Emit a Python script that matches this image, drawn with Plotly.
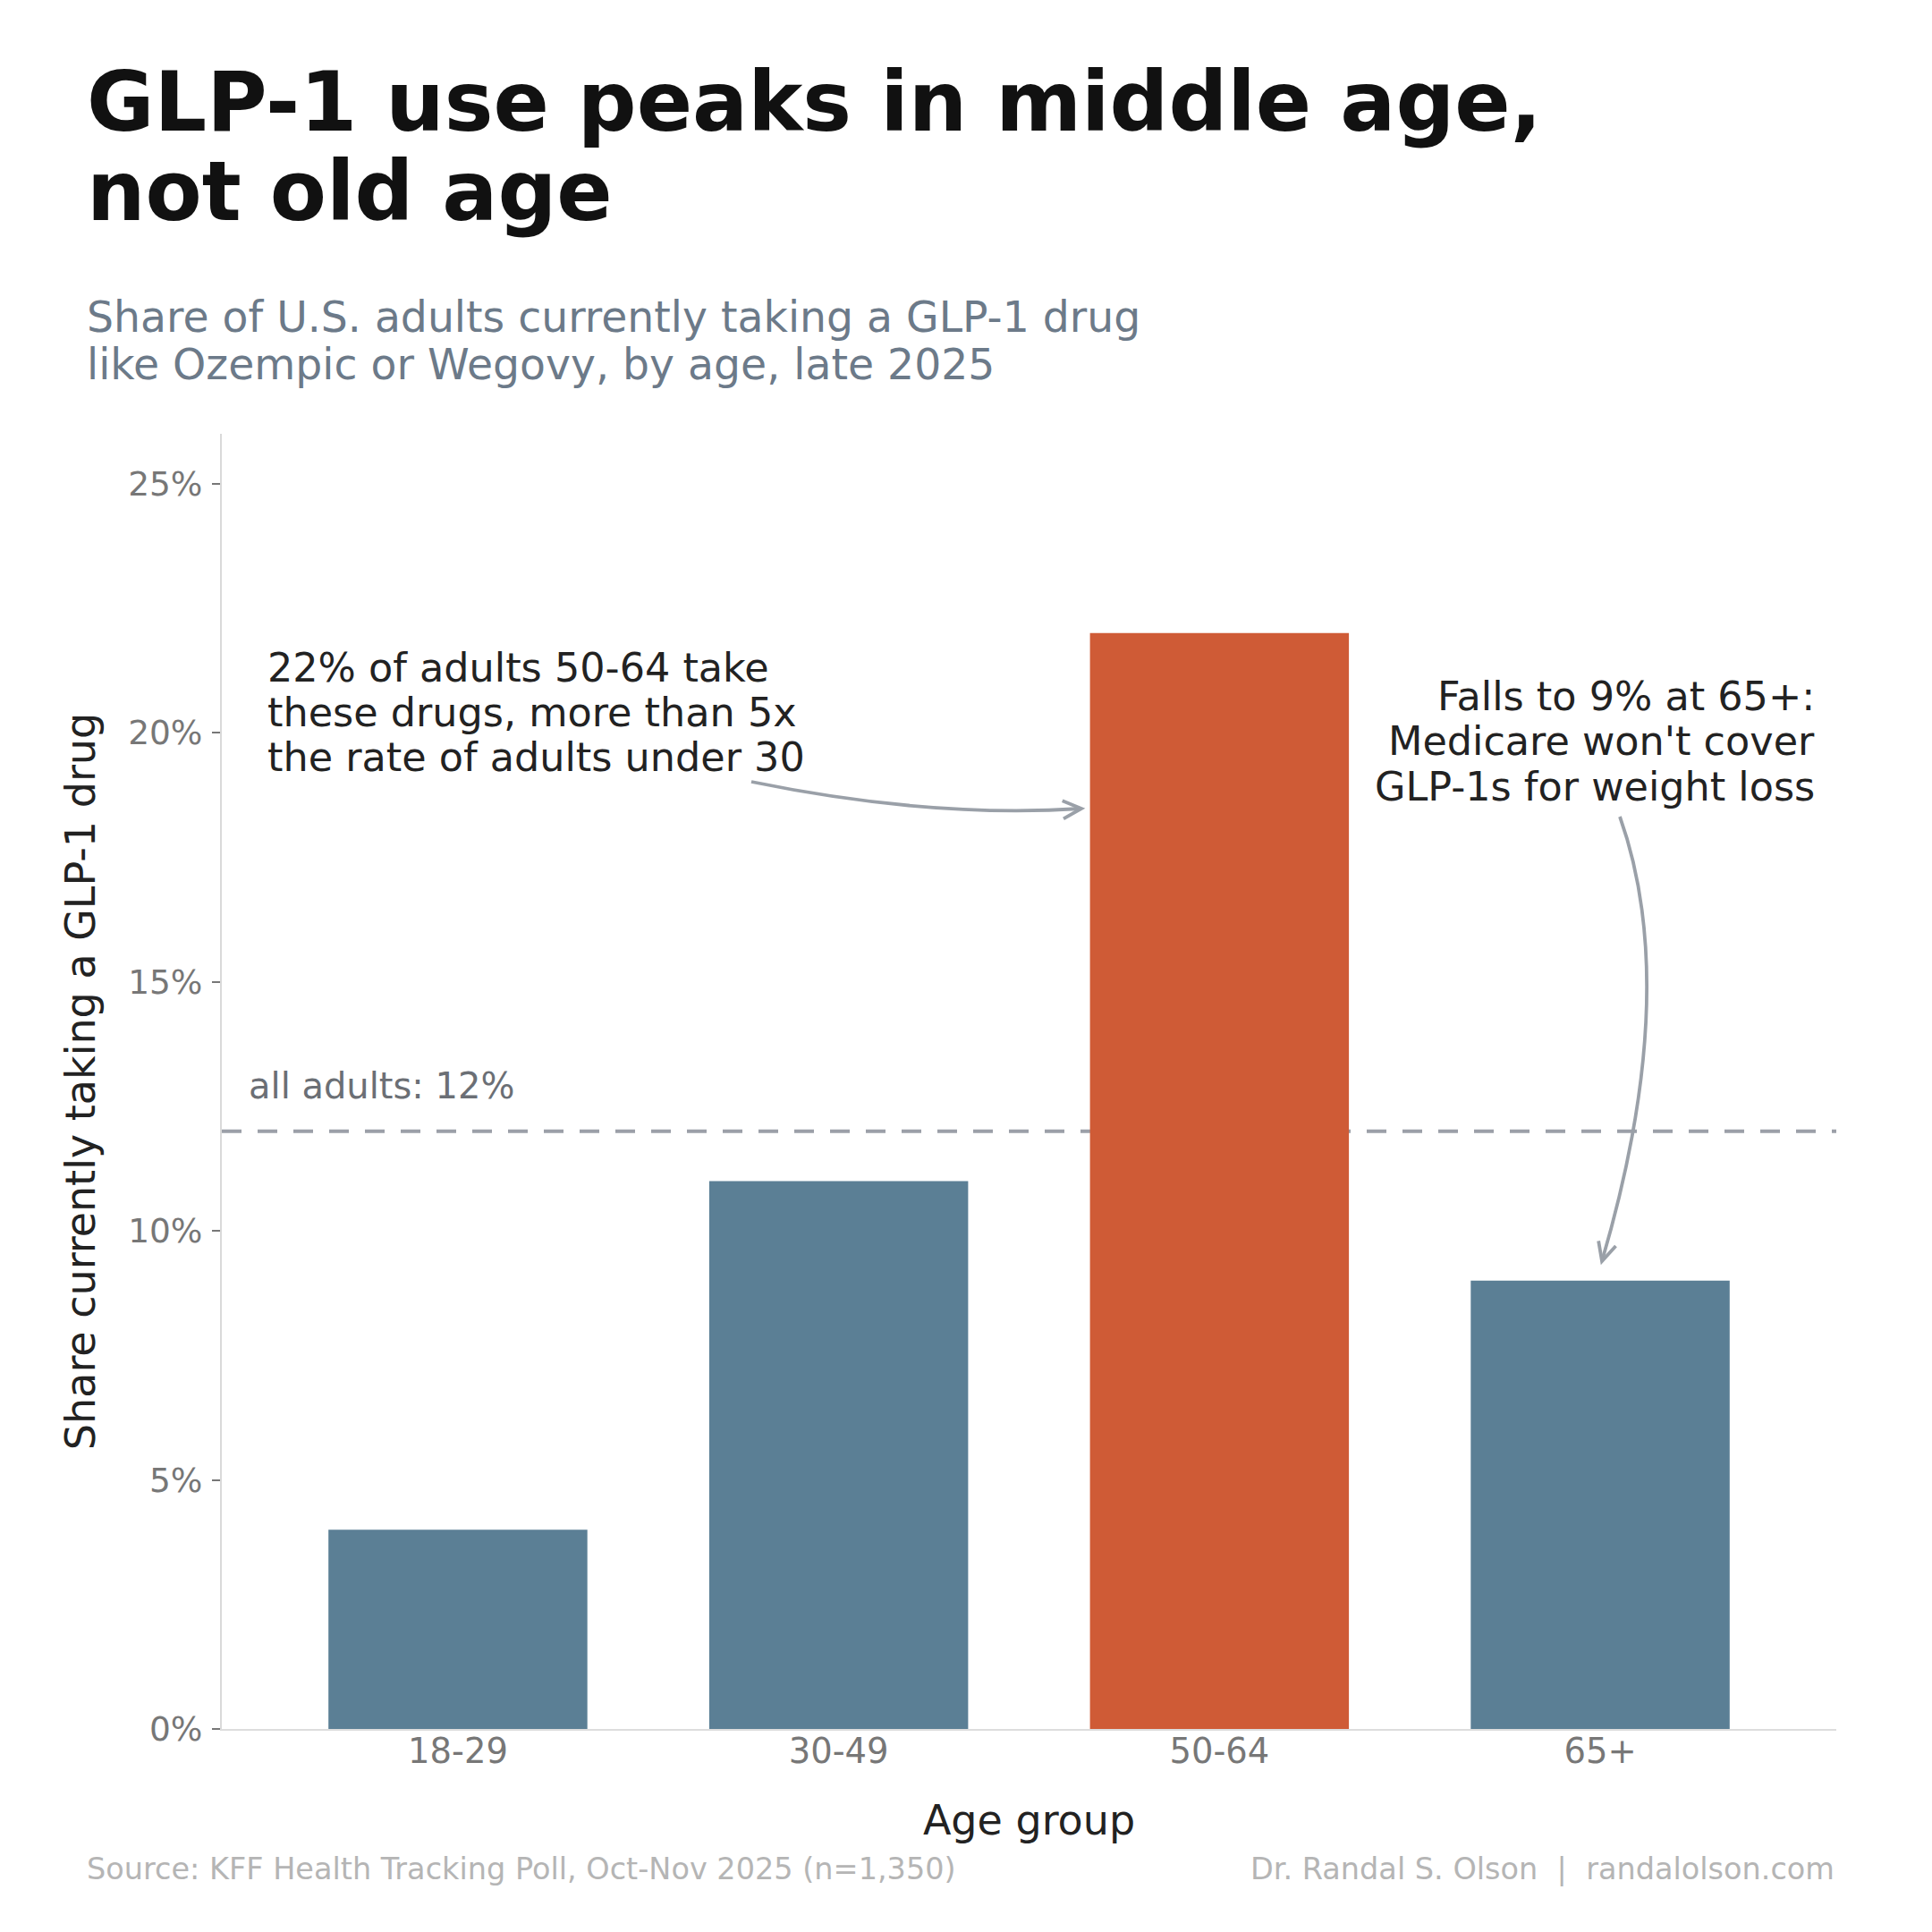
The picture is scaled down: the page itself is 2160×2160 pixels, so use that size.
import math
import plotly.graph_objects as go

# data
age_groups = ["18-29", "30-49", "50-64", "65+"]
share_pct = [4, 11, 22, 9]
all_adults_pct = 12
highlight = "50-64"

y_ticks = [0, 5, 10, 15, 20, 25]

title_lines = ["GLP-1 use peaks in middle age,", "not old age"]
subtitle_lines = ["Share of U.S. adults currently taking a GLP-1 drug",
                  "like Ozempic or Wegovy, by age, late 2025"]
note_left = ["22% of adults 50-64 take", "these drugs, more than 5x",
             "the rate of adults under 30"]
note_right = ["Falls to 9% at 65+:", "Medicare won't cover",
              "GLP-1s for weight loss"]

BLUE = "#5b7f95"
ORANGE = "#cf5b36"
ARROW = "#9aa0a8"
FONT = "DejaVu Sans"

# page has an 8px body margin, so the figure is a little smaller than the window
PAGE = 2160
OFF = 8
W = H = PAGE - OFF
PL, PR, PT, PB = 248, 2053, 485, 1933   # plot box in page pixels


def px(x):
    # page pixel -> paper x
    return (x - PL) / (PR - PL)


def py(y):
    # page pixel -> paper y
    return (PB - y) / (PB - PT)


colors = [ORANGE if g == highlight else BLUE for g in age_groups]

fig = go.Figure()
fig.add_trace(go.Bar(x=age_groups, y=share_pct, marker_color=colors,
                     marker_line_width=0, hoverinfo="skip"))

fig.add_hline(y=all_adults_pct, line=dict(color="#9ca0a8", width=4, dash="22px,18px"),
              layer="below")


def text(s, x, y, size, color, anchor="left", bold=False):
    fig.add_annotation(text=f"<b>{s}</b>" if bold else s, x=px(x), y=py(y),
                       xref="paper", yref="paper", xanchor=anchor, yanchor="middle",
                       showarrow=False, font=dict(family=FONT, size=size, color=color))


for i, s in enumerate(title_lines):
    text(s, 95, 115 + i * 100, 92, "#111111", bold=True)
for i, s in enumerate(subtitle_lines):
    text(s, 95, 354 + i * 54, 47.3, "#6c7a89")
for i, s in enumerate(note_left):
    text(s, 297, 746 + i * 50, 44.5, "#222222")
for i, s in enumerate(note_right):
    text(s, 2031, 778 + i * 50.5, 44.5, "#222222", anchor="right")

fig.add_annotation(text=f"all adults: {all_adults_pct}%", x=-0.555, y=all_adults_pct,
                   xref="x", yref="y", xanchor="left", yanchor="bottom", yshift=26,
                   showarrow=False, font=dict(family=FONT, size=40, color="#6b6f75"))

text("Source: KFF Health Tracking Poll, Oct-Nov 2025 (n=1,350)", 95, 2089, 33.5, "#b5b5b5")
text("Dr. Randal S. Olson  |  randalolson.com", 2053, 2089, 33.5, "#b5b5b5", anchor="right")


def curved_arrow(p0, c, p2, head=23, ang=26):
    fig.add_shape(type="path", xref="paper", yref="paper",
                  path=f"M {px(p0[0])},{py(p0[1])} Q {px(c[0])},{py(c[1])} {px(p2[0])},{py(p2[1])}",
                  line=dict(color=ARROW, width=3.8))
    dx, dy = c[0] - p2[0], c[1] - p2[1]
    n = math.hypot(dx, dy)
    bx, by = dx / n, dy / n
    pts = []
    for a in (ang, -ang):
        t = math.radians(a)
        rx = bx * math.cos(t) - by * math.sin(t)
        ry = bx * math.sin(t) + by * math.cos(t)
        pts.append((p2[0] + head * rx, p2[1] + head * ry))
    fig.add_shape(type="path", xref="paper", yref="paper",
                  path=(f"M {px(pts[0][0])},{py(pts[0][1])} L {px(p2[0])},{py(p2[1])} "
                        f"L {px(pts[1][0])},{py(pts[1][1])}"),
                  line=dict(color=ARROW, width=3.8))


curved_arrow((840, 874), (1040, 915), (1209, 904))
curved_arrow((1811, 913), (1880, 1107), (1791, 1410))

fig.update_layout(
    width=W, height=H,
    margin=dict(l=PL - OFF, r=W - (PR - OFF), t=PT - OFF, b=H - (PB - OFF)),
    paper_bgcolor="white", plot_bgcolor="white",
    showlegend=False,
    bargap=0.32,
    font=dict(family=FONT),
)
fig.update_xaxes(
    range=[-0.62, 3.62], showgrid=False, zeroline=False,
    showline=True, linecolor="#dddddd", linewidth=2, ticks="",
    tickfont=dict(size=38.5, color="#777777"), ticklabelstandoff=-10,
    title=dict(text="Age group", font=dict(size=46, color="#222222"), standoff=40),
)
fig.update_yaxes(
    range=[0, 26], tickvals=y_ticks, ticktext=[f"{v}%" for v in y_ticks],
    showgrid=False, zeroline=False,
    showline=True, linecolor="#d9d9d9", linewidth=2,
    ticks="outside", ticklen=9, tickwidth=2, tickcolor="#777777",
    tickfont=dict(size=37.5, color="#777777"), ticklabelstandoff=3,
    title=dict(text="Share currently taking a GLP-1 drug",
               font=dict(size=46, color="#222222"), standoff=22),
)

fig.write_html("out.html")
